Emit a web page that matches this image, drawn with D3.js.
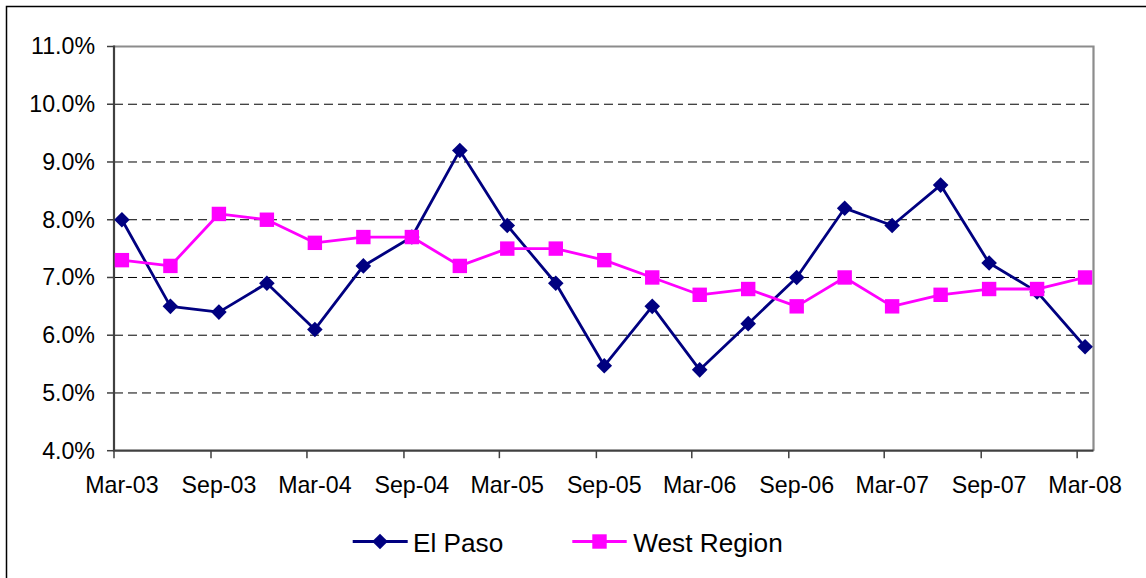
<!DOCTYPE html>
<html><head><meta charset="utf-8">
<script src="https://cdn.jsdelivr.net/npm/d3@7"></script>
<style>
body{margin:0;background:#fff}
svg{display:block}
text{font-family:"Liberation Sans",Arial,sans-serif;fill:#000}
</style>
</head><body>
<svg id="c" width="1146" height="578"></svg>
<script>
const categories = ["Mar-03","Jun-03","Sep-03","Dec-03","Mar-04","Jun-04","Sep-04","Dec-04",
  "Mar-05","Jun-05","Sep-05","Dec-05","Mar-06","Jun-06","Sep-06","Dec-06",
  "Mar-07","Jun-07","Sep-07","Dec-07","Mar-08"];
const elPaso = [8.0,6.5,6.4,6.9,6.1,7.2,7.7,9.2,7.9,6.9,5.47,6.5,5.4,6.2,7.0,8.2,7.9,8.6,7.25,6.75,5.8];
const westRegion = [7.3,7.2,8.1,8.0,7.6,7.7,7.7,7.2,7.5,7.5,7.3,7.0,6.7,6.8,6.5,7.0,6.5,6.7,6.8,6.8,7.0];
const xTickLabels = ["Mar-03","Sep-03","Mar-04","Sep-04","Mar-05","Sep-05","Mar-06","Sep-06","Mar-07","Sep-07","Mar-08"];
const yTicks = [4,5,6,7,8,9,10,11];
const seriesNames = ["El Paso","West Region"];

const svg = d3.select("#c");
const parse = d3.timeParse("%b-%y");
const L = 114, R = 1093.5, T = 46.5, B = 450.7;
const x = d3.scaleTime().domain([new Date(2003,2,1), new Date(2008,3,1)]).range([L, R]);
const y = d3.scaleLinear().domain([4, 11]).range([B, T]);
const mid = s => d3.timeDay.offset(parse(s), 15);
const fmt = v => d3.format(".1f")(v) + "%";

// outer border
svg.append("rect").attr("x",6.5).attr("y",6.5).attr("width",1150).attr("height",600)
  .attr("fill","none").attr("stroke","#000").attr("stroke-width",1.5);

// gridlines
svg.append("g").selectAll("line").data(yTicks.filter(v => v > 4 && v < 11)).join("line")
  .attr("x1",L).attr("x2",R).attr("y1",d=>y(d)).attr("y2",d=>y(d))
  .attr("stroke","#000").attr("stroke-width",1).attr("stroke-dasharray","9,5");

// plot border top/right gray
svg.append("path").attr("d",`M${L},${T}H${R}V${B}`).attr("fill","none")
  .attr("stroke","#8c8c8c").attr("stroke-width",2.2);

// y axis
const gy = svg.append("g");
gy.selectAll("line").data(yTicks).join("line")
  .attr("x1",L-7).attr("x2",L).attr("y1",d=>y(d)).attr("y2",d=>y(d))
  .attr("stroke","#404040").attr("stroke-width",1.5);
gy.selectAll("text").data(yTicks).join("text")
  .attr("x",95).attr("y",d=>y(d)+7.8).attr("text-anchor","end")
  .attr("font-size","23.2px").text(fmt);

// x axis
const gx = svg.append("g");
gx.selectAll("line").data(xTickLabels).join("line")
  .attr("x1",d=>x(parse(d))).attr("x2",d=>x(parse(d))).attr("y1",B).attr("y2",B+7.5)
  .attr("stroke","#404040").attr("stroke-width",1.5);
gx.selectAll("text").data(xTickLabels).join("text")
  .attr("x",d=>x(mid(d))).attr("y",493).attr("text-anchor","middle")
  .attr("font-size","23.2px").text(d=>d);

svg.append("path").attr("d",`M${L},${T-1}V${B}H${R}`).attr("fill","none")
  .attr("stroke","#404040").attr("stroke-width",2.2);

const diamond = (cx, cy, r) => `M${cx},${cy-r}L${cx+r},${cy}L${cx},${cy+r}L${cx-r},${cy}Z`;
const line = d3.line().x((d,i)=>x(mid(categories[i]))).y(d=>y(d));

// El Paso
svg.append("path").attr("d",line(elPaso)).attr("fill","none")
  .attr("stroke","#000080").attr("stroke-width",2.8).attr("stroke-linejoin","round");
svg.append("g").selectAll("path").data(elPaso).join("path")
  .attr("d",(d,i)=>diamond(x(mid(categories[i])), y(d), 7.8)).attr("fill","#000080");

// West Region
svg.append("path").attr("d",line(westRegion)).attr("fill","none")
  .attr("stroke","#ff00ff").attr("stroke-width",2.8).attr("stroke-linejoin","round");
svg.append("g").selectAll("rect").data(westRegion).join("rect")
  .attr("x",(d,i)=>x(mid(categories[i]))-7.2).attr("y",d=>y(d)-7.2)
  .attr("width",14.4).attr("height",14.4).attr("fill","#ff00ff");

// legend
const lg = svg.append("g");
lg.append("line").attr("x1",352.7).attr("x2",407.7).attr("y1",541.5).attr("y2",541.5)
  .attr("stroke","#000080").attr("stroke-width",2.8);
lg.append("path").attr("d",diamond(380,541.5,7.8)).attr("fill","#000080");
lg.append("text").attr("x",413).attr("y",551.5).attr("font-size","26.2px").text(seriesNames[0]);
lg.append("line").attr("x1",572.3).attr("x2",626.7).attr("y1",541.5).attr("y2",541.5)
  .attr("stroke","#ff00ff").attr("stroke-width",2.8);
lg.append("rect").attr("x",599.5-7.2).attr("y",541.5-7.2).attr("width",14.4).attr("height",14.4).attr("fill","#ff00ff");
lg.append("text").attr("x",633.3).attr("y",551.5).attr("font-size","26.2px").text(seriesNames[1]);
</script>
</body></html>
